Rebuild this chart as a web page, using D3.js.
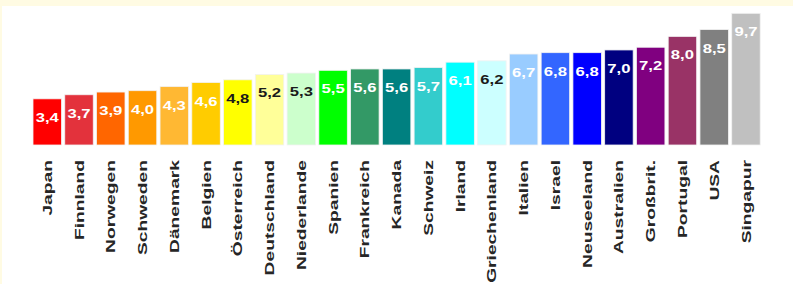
<!DOCTYPE html>
<html>
<head>
<meta charset="utf-8">
<script src="https://cdn.jsdelivr.net/npm/d3@7"></script>
<style>
  body { margin: 0; background: #fff; }
  svg { display: block; font-family: Arial, "Liberation Sans", sans-serif; }
</style>
</head>
<body>
<div id="chart"></div>
<script>
// Werte je Land (Reihenfolge wie im Bild)
const countries = ['Japan','Finnland','Norwegen','Schweden','Dänemark','Belgien','Österreich','Deutschland',
  'Niederlande','Spanien','Frankreich','Kanada','Schweiz','Irland','Griechenland','Italien','Israel',
  'Neuseeland','Australien','Großbrit.','Portugal','USA','Singapur'];
const values = [3.4,3.7,3.9,4.0,4.3,4.6,4.8,5.2,5.3,5.5,5.6,5.6,5.7,6.1,6.2,6.7,6.8,6.8,7.0,7.2,8.0,8.5,9.7];
const barColors = ['#ff0000','#e3323c','#ff6600','#ff9900','#ffb833','#ffcc00','#ffff00','#ffff99',
  '#ccffcc','#00ff00','#339966','#008080','#33cccc','#00ffff','#ccffff','#99ccff','#3366ff',
  '#0000ff','#000080','#800080','#993366','#808080','#c0c0c0'];
const darkLabels = ['Österreich','Deutschland','Niederlande','Griechenland'];

const width = 793, height = 284;
const svg = d3.select('#chart').append('svg')
    .attr('width', width)
    .attr('height', height);

// blassgelber Rahmen oben und links
svg.append('rect').attr('width', width).attr('height', height).attr('fill', '#fffbe3');
svg.append('rect').attr('x', 2).attr('y', 6).attr('width', width - 2).attr('height', height - 6).attr('fill', '#ffffff');

const x = d3.scaleBand()
    .domain(countries)
    .range([33, 760.2])
    .paddingInner(0.103)
    .paddingOuter(0);

const y = d3.scaleLinear()
    .domain([0, 9.7])
    .range([145, 13.3]);

const data = countries.map((c, i) => ({name: c, value: values[i], color: barColors[i]}));

const bars = svg.append('g').selectAll('g')
    .data(data)
    .join('g');

bars.append('rect')
    .attr('x', d => x(d.name))
    .attr('y', d => y(d.value))
    .attr('width', x.bandwidth())
    .attr('height', d => y(0) - y(d.value))
    .attr('fill', d => d.color)
    .attr('stroke', '#f2f2f2')
    .attr('stroke-width', 0.8);

// Wertbeschriftung, etwas breit gezogen wie im Original
bars.append('text')
    .attr('transform', d => `translate(${x(d.name) + x.bandwidth() / 2},${y(d.value) + 23}) scale(1.28,1)`)
    .attr('text-anchor', 'middle')
    .attr('font-size', 13)
    .attr('font-weight', 'bold')
    .attr('fill', d => darkLabels.includes(d.name) ? '#1a1a1a' : '#ffffff')
    .text(d => d3.format('.1f')(d.value).replace('.', ','));

// Achsenbeschriftung, senkrecht
const xAxis = svg.append('g')
    .attr('transform', 'translate(0,145)')
    .call(d3.axisBottom(x).tickSize(0).tickPadding(0));
xAxis.select('.domain').remove();
xAxis.selectAll('text')
    .attr('transform', 'translate(0,15) rotate(-90) scale(1.48,1)')
    .attr('x', 0)
    .attr('y', 0)
    .attr('dy', '0.35em')
    .attr('text-anchor', 'end')
    .attr('font-size', 13)
    .attr('font-weight', 'bold')
    .attr('font-family', 'Arial, "Liberation Sans", sans-serif')
    .attr('fill', '#262626');
</script>
</body>
</html>
